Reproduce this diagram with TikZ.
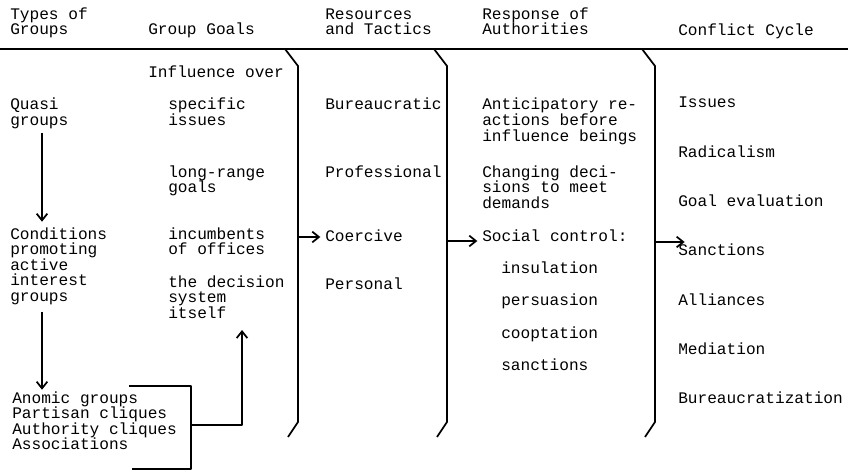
\documentclass[tikz,border=0pt]{standalone}
\usepackage{fontspec}
\setmonofont{Liberation Mono}
\usetikzlibrary{arrows.meta}
\setlength{\lineskiplimit}{-5pt}
\tikzset{ t/.style = { anchor = base west % text block, placed by its last line
        , inner sep = 0pt
        , align = left
        }
        , ln/.style = { line width = 1.3pt % dividers and brackets
        , line join = round
        }
        }

\begin{document}
\begin{tikzpicture}[x=0.75pt, y=-0.75pt,
        font={\ttfamily\fontsize{12.1}{11.7}\selectfont},
        arr/.style={line width=1.3pt, -{Straight Barb[length=5pt,width=8pt]}},
        rule/.style={line width=1.2pt}]
        \useasboundingbox (0,0) rectangle (848,474);

        % headings
        \node [t](h1) at (10,35) {Types of\\Groups};
        \node [t](h2) at (148,35) {Group Goals};
        \node [t](h3) at (325,35) {Resources\\and Tactics};
        \node [t](h4) at (482,35) {Response of\\Authorities};
        \node [t](h5) at (678,36) {Conflict Cycle};
        \draw [rule] (0,49) -- (848,49);

        % types of groups
        \node [t](quasi) at (10,125.6) {Quasi\\groups};
        \node [t](cond) at (10,301.4) {Conditions\\promoting\\active\\interest\\groups};
        \node [t](types) at (12,449.8) {Anomic groups\\Partisan cliques\\Authority cliques\\Associations};

        % group goals
        \node [t](infl) at (148,78) {Influence over};
        \node [t](g1) at (168,125.6) {specific\\issues};
        \node [t](g2) at (168,192.6) {long-range\\goals};
        \node [t](g3) at (168,254.6) {incumbents\\of offices};
        \node [t](g4) at (168,318.2) {the decision\\system\\itself};

        % resources and tactics
        \node [t](r1) at (325,110) {Bureaucratic};
        \node [t](r2) at (325,177) {Professional};
        \node [t](r3) at (325,241) {Coercive};
        \node [t](r4) at (325,289) {Personal};

        % response of authorities
        \node [t](a1) at (482,141.2) {Anticipatory re-\\actions before\\influence beings};
        \node [t](a2) at (482,208.2) {Changing deci-\\sions to meet\\demands};
        \node [t](a3) at (482,241) {Social control:};
        \foreach \s/\y [count=\i] in {insulation/273, persuasion/305.5, cooptation/338, sanctions/370.5}
                \node [t](s\i) at (501,\y) {\s};

        % conflict cycle
        \foreach \s [count=\i] in {Issues, Radicalism, Goal evaluation, Sanctions, Alliances, Mediation, Bureaucratization}
                \node [t](c\i) at (678,{108+49.3*(\i-1)}) {\s};

        % column dividers
        \foreach \x/\ya/\n in {298/237/1, 447/241/2, 655/242/3} {
                \draw [ln] (\x-13,49) -- (\x,66) -- (\x,422) -- (\x-10,437);
                \coordinate (d\n) at (\x,\ya);
        }
        \draw [arr, shorten >=3.5pt] (d1) -- (d1 -| r3.west);
        \draw [arr, shorten >=3.5pt] (d2) -- (d2 -| a3.west);
        \draw [arr] (d3) -- ([xshift=5pt]d3 -| c4.west);

        % flow down the first column
        \draw [arr, shorten <=3pt, shorten >=4pt] ([xshift=24pt]quasi.south west) -- ([xshift=24pt]quasi.south west |- cond.north);
        \draw [arr, shorten <=5pt, shorten >=1pt] ([xshift=24pt]cond.south west) -- ([xshift=24pt]cond.south west |- types.north);

        % bracket round the group types
        \coordinate (bm) at (191,425);
        \coordinate (up) at (242,330);
        \draw [ln] (129,386) -- (191,386) -- (191,469) -- (132,469);
        \draw [arr, line join=round] (bm) -| (up);
\end{tikzpicture}
\end{document}
